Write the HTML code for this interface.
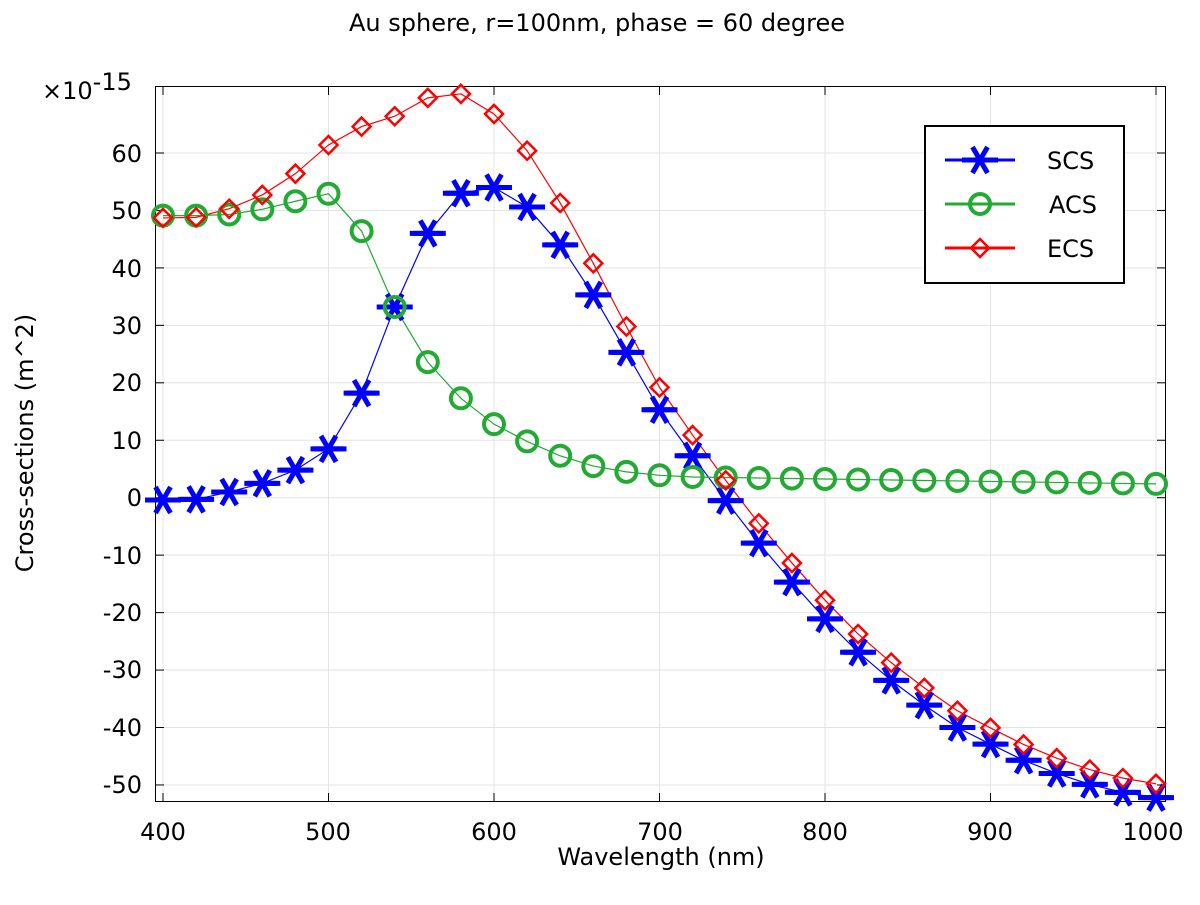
<!DOCTYPE html>
<html><head><meta charset="utf-8"><style>
html,body{margin:0;padding:0;background:#fff;}
svg text{font-family:"DejaVu Sans","Liberation Sans",sans-serif;fill:#000;}
</style></head><body>
<svg id="s" width="1200" height="900" xmlns="http://www.w3.org/2000/svg">
<rect width="1200" height="900" fill="#fff"/>
<text x="597" y="31" font-size="24" text-anchor="middle">Au sphere, r=100nm, phase = 60 degree</text>
<g id="grid" stroke="#e3e3e3" stroke-width="1"></g>
<rect x="155.5" y="86.5" width="1010" height="715" fill="none" stroke="#000" stroke-width="1"/>
<g id="ticks" stroke="#000" stroke-width="1"></g>
<g font-size="24" text-anchor="middle">
<text x="163" y="840">400</text><text x="328" y="840">500</text><text x="494" y="840">600</text>
<text x="660" y="840">700</text><text x="825" y="840">800</text><text x="990" y="840">900</text><text x="1153" y="840">1000</text>
</g>
<g font-size="24" text-anchor="end">
<text x="142" y="162">60</text><text x="142" y="219">50</text><text x="142" y="277">40</text>
<text x="142" y="334">30</text><text x="142" y="391">20</text><text x="142" y="449">10</text>
<text x="142" y="506">0</text><text x="142" y="564">-10</text><text x="142" y="621">-20</text>
<text x="142" y="678">-30</text><text x="142" y="736">-40</text><text x="142" y="793">-50</text>
</g>
<text x="42" y="99" font-size="24">×10<tspan dy="-9">-15</tspan></text>
<text x="661" y="865" font-size="24" text-anchor="middle">Wavelength (nm)</text>
<text transform="translate(33,443) rotate(-90)" font-size="24" text-anchor="middle">Cross-sections (m^2)</text>
<g id="data"></g>
<rect x="925" y="126" width="199" height="157" fill="#fff" stroke="#000" stroke-width="2"/>
<g id="leg"></g>
<g font-size="24">
<text x="1047" y="169">SCS</text><text x="1049" y="213">ACS</text><text x="1047" y="257">ECS</text>
</g>
</svg>
<script>
const X=v=>163+(v-400)*993/600, Y=v=>497.7-v*5.745;
const ns="http://www.w3.org/2000/svg";
function el(p,t,a){const e=document.createElementNS(ns,t);for(const k in a)e.setAttribute(k,a[k]);document.getElementById(p).appendChild(e);return e;}
for(let v=400;v<=1000;v+=100){el('grid','line',{x1:X(v),x2:X(v),y1:87,y2:801});el('ticks','line',{x1:X(v),x2:X(v),y1:801,y2:793});el('ticks','line',{x1:X(v),x2:X(v),y1:87,y2:95});}
for(let v=-50;v<=60;v+=10){el('grid','line',{x1:156,x2:1165,y1:Y(v),y2:Y(v)});el('ticks','line',{x1:156,x2:164,y1:Y(v),y2:Y(v)});el('ticks','line',{x1:1165,x2:1157,y1:Y(v),y2:Y(v)});}
const xs=[];for(let v=400;v<=1000;v+=20)xs.push(v);
const scs=[-0.4,-0.3,1,2.5,4.8,8.5,18.2,33.2,46,53,54,50.6,44,35.3,25.3,15.3,7.3,-0.5,-7.9,-14.7,-21.1,-26.9,-31.8,-36.1,-40,-42.9,-45.7,-48,-49.9,-51.3,-52.2];
const acs=[49.1,49.1,49.3,50.2,51.6,52.9,46.4,33.2,23.6,17.3,12.8,9.8,7.3,5.5,4.5,3.9,3.6];
while(acs.length<31){const i=acs.length;acs.push(3.6-(i-16)*(1.2/14));}
const ecs=scs.map((s,i)=>s+acs[i]);
function line(d,c){el('data','polyline',{points:d.map((v,i)=>X(xs[i])+','+Y(v)).join(' '),fill:'none',stroke:c,'stroke-width':1.2});}
line(scs,'#0000ff');line(acs,'#22aa33');line(ecs,'#ff0000');
function star(g,x,y){const r=15;for(const a of [0,60,120]){const t=a*Math.PI/180;el(g,'line',{x1:x-r*Math.cos(t),y1:y-r*Math.sin(t),x2:x+r*Math.cos(t),y2:y+r*Math.sin(t),stroke:'#0000ff','stroke-width':5});}el(g,'line',{x1:x-18,x2:x+18,y1:y,y2:y,stroke:'#0000ff','stroke-width':5});}
function circ(g,x,y){el(g,'circle',{cx:x,cy:y,r:10,fill:'none',stroke:'#22aa33','stroke-width':4});}
function dia(g,x,y){const r=9;el(g,'polygon',{points:`${x},${y-r} ${x+r},${y} ${x},${y+r} ${x-r},${y}`,fill:'none',stroke:'#ff0000','stroke-width':2.5});}
xs.forEach((v,i)=>star('data',X(v),Y(scs[i])));
xs.forEach((v,i)=>circ('data',X(v),Y(acs[i])));
xs.forEach((v,i)=>dia('data',X(v),Y(ecs[i])));
[['#0000ff',160],['#22aa33',204],['#ff0000',248]].forEach(([c,y])=>el('leg','line',{x1:945,x2:1015,y1:y,y2:y,stroke:c,'stroke-width':3}));
star('leg',980,160);circ('leg',980,204);dia('leg',980,248);
</script>
</body></html>
